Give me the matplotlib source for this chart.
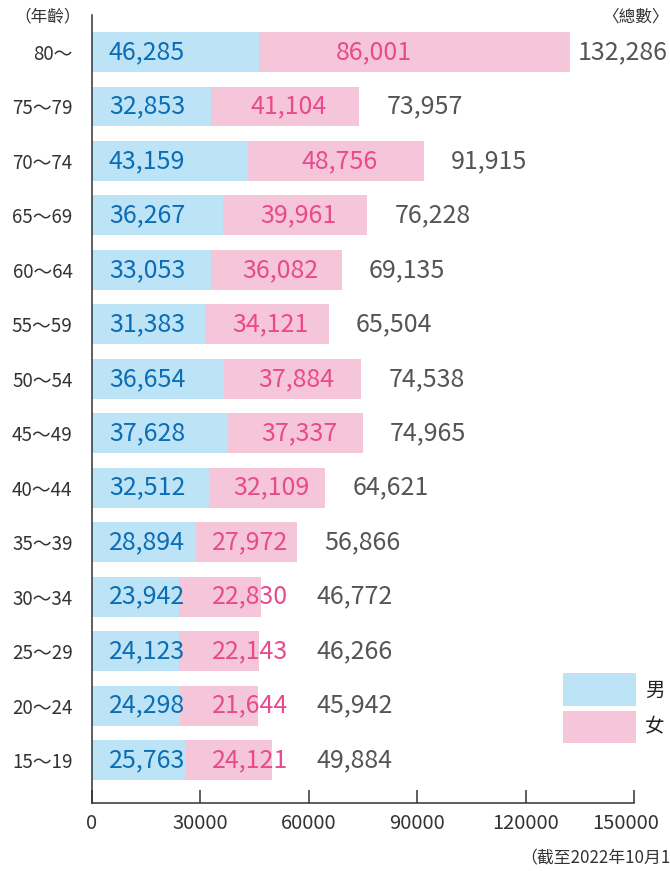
import matplotlib
matplotlib.use("Agg")
import matplotlib.pyplot as plt
import matplotlib.transforms as mtransforms
from matplotlib.patches import Rectangle

plt.rcParams['font.family'] = ['Noto Sans CJK TC', 'DejaVu Sans']

# data, bottom row first
ages = ['15～19', '20～24', '25～29', '30～34', '35～39', '40～44', '45～49',
        '50～54', '55～59', '60～64', '65～69', '70～74', '75～79', '80～']
male = [25763, 24298, 24123, 23942, 28894, 32512, 37628,
        36654, 31383, 33053, 36267, 43159, 32853, 46285]
female = [24121, 21644, 22143, 22830, 27972, 32109, 37337,
          37884, 34121, 36082, 39961, 48756, 41104, 86001]
total = [49884, 45942, 46266, 46772, 56866, 64621, 74965,
         74538, 65504, 69135, 76228, 91915, 73957, 132286]
xticks = [0, 30000, 60000, 90000, 120000, 150000]
xtick_labels = ['0', '30000', '60000', '90000', '120000', '150000']

blue = '#bde3f7'
pink = '#f5c6da'
blue_txt = '#0a6db5'
pink_txt = '#e84a8c'
grey_txt = '#555555'
dark = '#333333'

W, H = 670, 871
fig = plt.figure(figsize=(W / 100, H / 100), dpi=100)
ax = fig.add_axes([92 / W, (H - 803) / H, 542 / W, 788 / H])

y = list(range(len(ages)))
ax.barh(y, male, height=0.734, color=blue, linewidth=0)
ax.barh(y, female, left=male, height=0.734, color=pink, linewidth=0)

for i in y:
    ax.text(4700, i, f'{male[i]:,}', color=blue_txt, fontsize=18,
            ha='left', va='center')
    fx = min(max(male[i] + female[i] / 2 + 1000, 43800), 78000)
    ax.text(fx, i, f'{female[i]:,}', color=pink_txt, fontsize=18,
            ha='center', va='center')
    tx = min(max(total[i] + 7500, 62000), 134500)
    ax.text(tx, i, f'{total[i]:,}', color=grey_txt, fontsize=18,
            ha='left', va='center', clip_on=False)

ax.set_xlim(0, 150000)
ax.set_ylim(-0.79, 13.68)
ax.set_yticks(y)
ax.set_yticklabels(ages, fontsize=13.5, color=dark)
ax.tick_params(axis='y', length=0, pad=14)
ax.set_xticks(xticks)
ax.set_xticklabels(xtick_labels, fontsize=14.5, color=dark)
ax.tick_params(axis='x', direction='in', length=9.5, width=1.1,
               color=dark, pad=7)
# last tick label sits a bit left of its tick
last = ax.get_xticklabels()[-1]
last.set_transform(last.get_transform() +
                   mtransforms.ScaledTranslation(-8 / 100, 0, fig.dpi_scale_trans))

for s in ['top', 'right']:
    ax.spines[s].set_visible(False)
for s in ['left', 'bottom']:
    ax.spines[s].set_color(dark)
    ax.spines[s].set_linewidth(1.1)

# headers and notes
fig.text(81 / W, 1 - 17 / H, '（年齡）', fontsize=12, color=dark,
         ha='right', va='center')
fig.text(669 / W, 1 - 17 / H, '〈總數〉', fontsize=12, color=dark,
         ha='right', va='center')
fig.text(661 / W, 1 - 827 / H, '（人）', fontsize=14.5, color=dark,
         ha='left', va='center')
fig.text(520 / W, 1 - 858 / H, '（截至2022年10月1日）', fontsize=12.2, color=dark,
         ha='left', va='center')

# legend
fig.patches.append(Rectangle((563 / W, 1 - 706 / H), 73 / W, 33 / H,
                             transform=fig.transFigure, color=blue, lw=0))
fig.patches.append(Rectangle((563 / W, 1 - 743 / H), 73 / W, 32 / H,
                             transform=fig.transFigure, color=pink, lw=0))
fig.text(645 / W, 1 - 690 / H, '男', fontsize=14, color='#222222',
         ha='left', va='center')
fig.text(645 / W, 1 - 727 / H, '女', fontsize=14, color='#222222',
         ha='left', va='center')

fig.savefig('out.png', dpi=100)
